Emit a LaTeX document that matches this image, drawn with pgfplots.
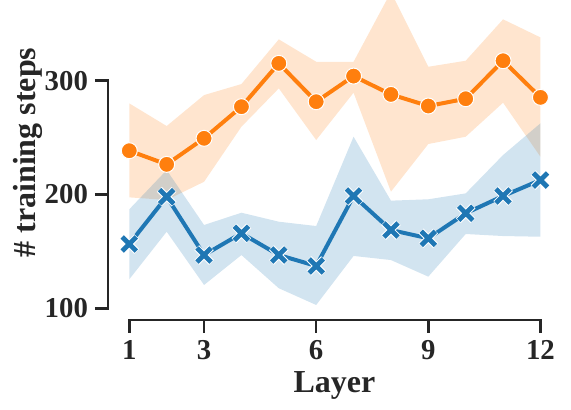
\documentclass[border=0pt]{standalone}
\usepackage{fontspec}
\setmainfont{Liberation Serif}
\usepackage{pgfplots}
\usepackage{pgfplotstable}
\pgfplotsset{compat=1.18}
\usepgfplotslibrary{fillbetween}

\definecolor{tabblue}{HTML}{1F77B4}
\definecolor{taborange}{HTML}{FF7F0E}
\definecolor{spine}{HTML}{262626}

% layer, mean, lower and upper edge of the band
\pgfplotstableread{
layer mean lo  hi
1  238.5 197.5 280.1
2  226.5 195.2 260.2
3  249.4 211.2 287.4
4  277.2 259.6 297.1
5  315.3 293.3 336.4
6  281.6 247.9 316.7
7  304.1 289.5 316.7
8  288.0 202.5 378.0
9  277.8 244.4 312.3
10 284.2 250.8 317.6
11 317.6 280.7 354.0
12 285.4 233.2 338.1
}\orangedata

\pgfplotstableread{
layer mean lo  hi
1  156.5 125.5 187.0
2  198.1 167.3 221.5
3  146.8 120.5 173.2
4  165.9 146.8 184.0
5  146.8 117.6 176.1
6  137.2 102.9 172.3
7  198.7 146.0 250.8
8  168.8 142.4 194.6
9  161.5 127.8 195.8
10 183.5 165.3 201.0
11 198.7 163.5 234.7
12 212.7 162.9 262.6
}\bluedata

\begin{document}
\begin{tikzpicture}
\begin{axis}[
    scale only axis,
    width=226.5pt, height=160pt,
    xmin=0.43, xmax=12.55,
    ymin=89.7, ymax=371,
    axis x line*=bottom, axis y line*=left,
    axis line style={draw=none},
    xtick={1,3,6,9,12},
    ytick={100,200,300},
    tick align=outside,
    major tick length=6.5pt,
    tick style={line width=1.3pt, spine},
    /pgf/number format/assume math mode=true,
    tick label style={font=\fontsize{14.4}{16}\selectfont\bfseries, text=spine},
    label style={font=\fontsize{16}{18}\selectfont\bfseries, text=spine},
    xlabel={Layer},
    ylabel={\# training steps},
    xlabel style={at={(axis description cs:0.5,-0.228)}, anchor=base},
    ylabel style={at={(axis description cs:-0.176,0.523)}, anchor=center},
]
% orange series
\addplot[name path=ou, draw=none, forget plot] table[x=layer, y=hi] {\orangedata};
\addplot[name path=ol, draw=none, forget plot] table[x=layer, y=lo] {\orangedata};
\addplot[taborange, fill opacity=0.2, draw=none] fill between[of=ou and ol];
\addplot[taborange, line width=2pt, mark=*, mark size=4pt,
    mark options={fill=taborange, draw=white, line width=0.5pt}]
    table[x=layer, y=mean] {\orangedata};

% blue series
\addplot[name path=bu, draw=none, forget plot] table[x=layer, y=hi] {\bluedata};
\addplot[name path=bl, draw=none, forget plot] table[x=layer, y=lo] {\bluedata};
\addplot[tabblue, fill opacity=0.2, draw=none] fill between[of=bu and bl];
\addplot[tabblue, line width=2pt, no marks] table[x=layer, y=mean] {\bluedata};
\addplot[white, only marks, mark=x, mark size=5.2pt,
    mark options={line width=3.4pt}] table[x=layer, y=mean] {\bluedata};
\addplot[tabblue, only marks, mark=x, mark size=5pt,
    mark options={line width=2.4pt}] table[x=layer, y=mean] {\bluedata};

\coordinate (ylo) at (axis cs:0.43,100);
\coordinate (yhi) at (axis cs:0.43,300);
\coordinate (xlo) at (axis cs:1,89.7);
\coordinate (xhi) at (axis cs:12,89.7);
\coordinate (sw) at (rel axis cs:0,0);
\coordinate (ne) at (rel axis cs:1,1);
\end{axis}
\draw[spine, line width=1.35pt, line cap=rect] (ylo) -- (yhi);
\draw[spine, line width=1.35pt, line cap=rect] (xlo) -- (xhi);
\pgfresetboundingbox
\path[use as bounding box] ([shift={(-54pt,-45pt)}]sw) rectangle ([shift={(5pt,0pt)}]ne);
\end{tikzpicture}
\end{document}
